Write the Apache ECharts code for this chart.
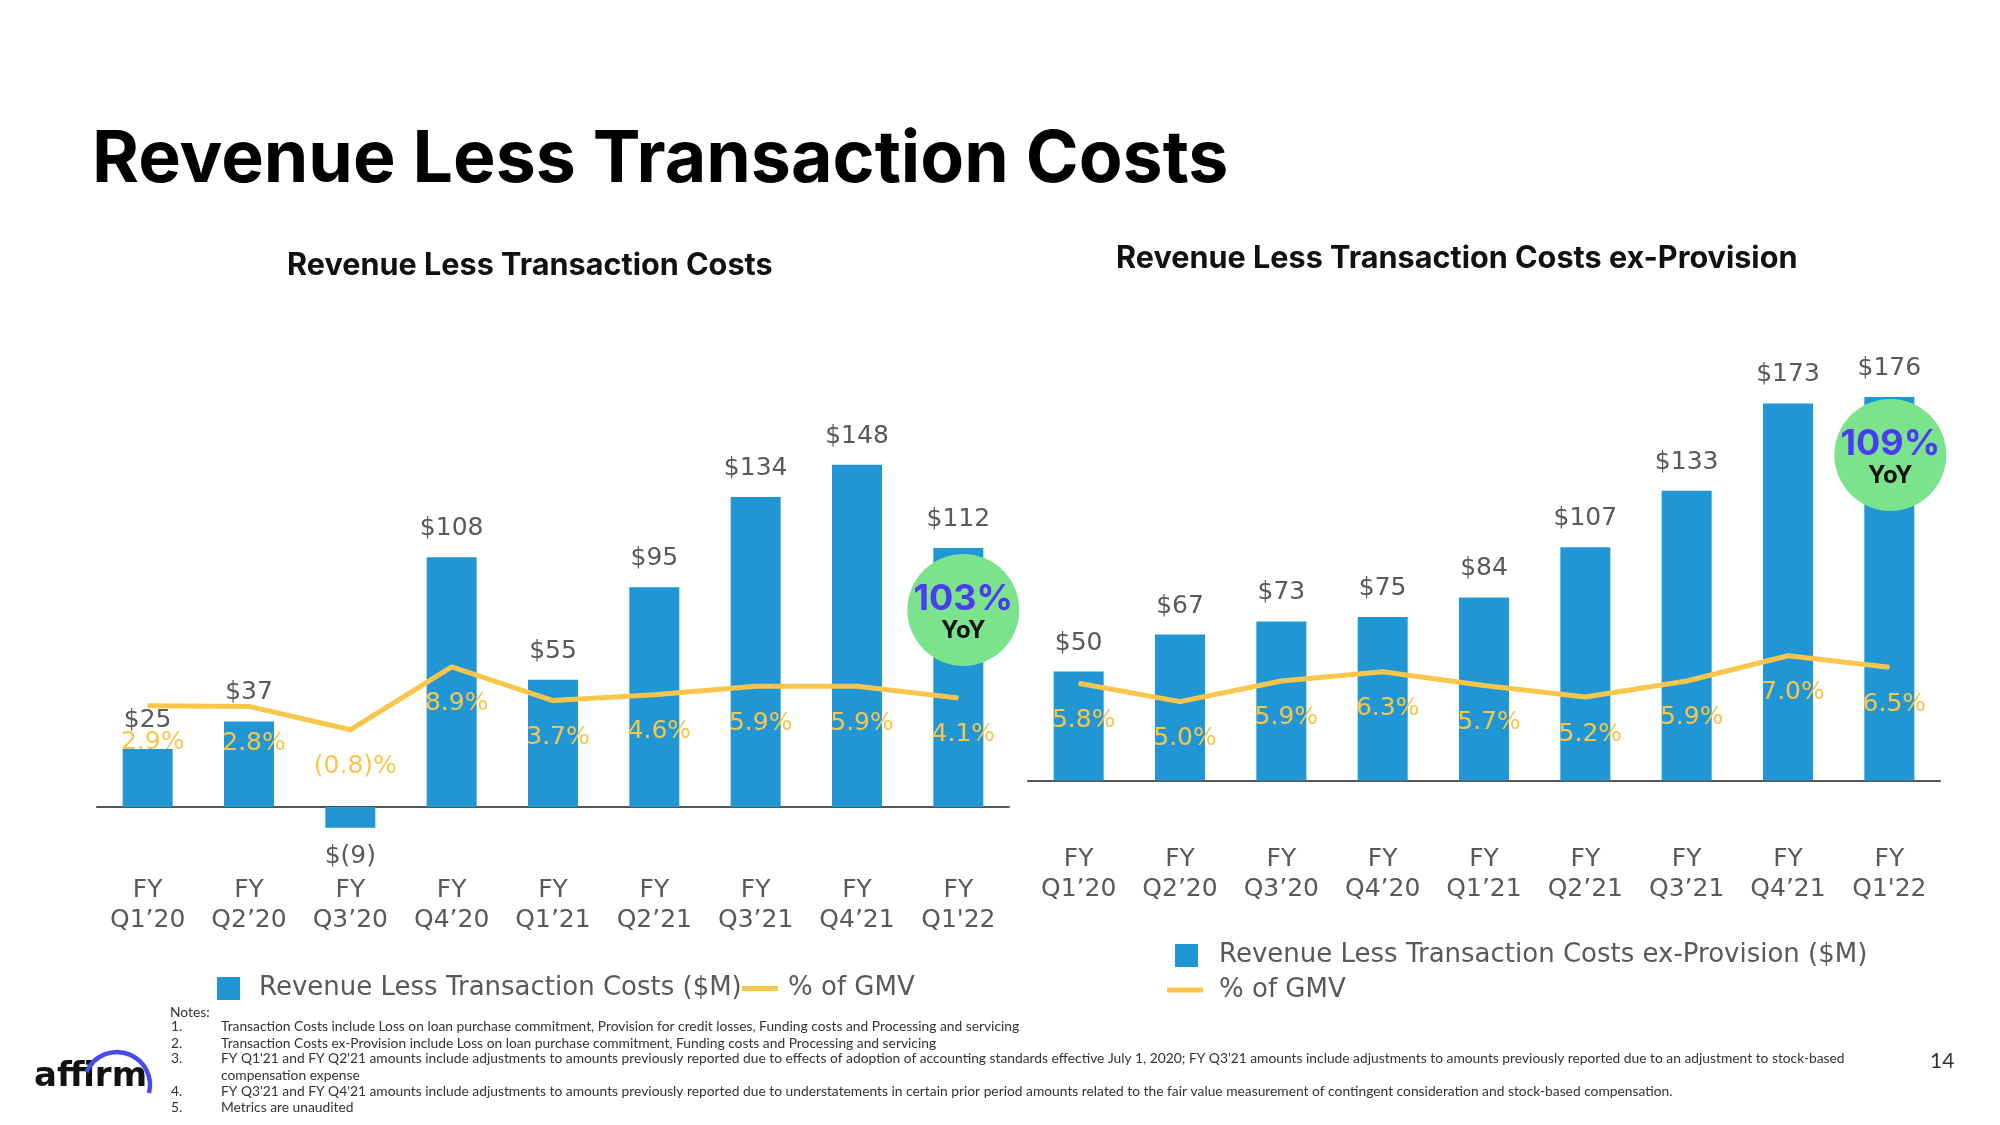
<!DOCTYPE html>
<html><head><meta charset="utf-8">
<script src="https://cdn.jsdelivr.net/npm/echarts@6/dist/echarts.min.js"></script>
<style>html,body{margin:0;padding:0;background:#fff}#c{width:2000px;height:1125px}</style>
</head><body><div id="c"></div>
<script>
// ---- data ----
const categories = ['FY\nQ1’20','FY\nQ2’20','FY\nQ3’20','FY\nQ4’20','FY\nQ1’21','FY\nQ2’21','FY\nQ3’21','FY\nQ4’21',"FY\nQ1'22"];
const rltc = [25, 37, -9, 108, 55, 95, 134, 148, 112];
const rltcPct = [2.9, 2.8, -0.8, 8.9, 3.7, 4.6, 5.9, 5.9, 4.1];
const rltcEx = [50, 67, 73, 75, 84, 107, 133, 173, 176];
const rltcExPct = [5.8, 5.0, 5.9, 6.3, 5.7, 5.2, 5.9, 7.0, 6.5];
const yoyLeft = '103%';
const yoyRight = '109%';
const seriesNames = ['Revenue Less Transaction Costs ($M)', '% of GMV', 'Revenue Less Transaction Costs ex-Provision ($M)'];
const notes = [
  ['1.', 'Transaction Costs include Loss on loan purchase commitment, Provision for credit losses, Funding costs and Processing and servicing'],
  ['2.', 'Transaction Costs ex-Provision include Loss on loan purchase commitment, Funding costs and Processing and servicing'],
  ['3.', "FY Q1'21 and FY Q2'21 amounts include adjustments to amounts previously reported due to effects of adoption of accounting standards effective July 1, 2020; FY Q3'21 amounts include adjustments to amounts previously reported due to an adjustment to stock-based"],
  ['', 'compensation expense'],
  ['4.', "FY Q3'21 and FY Q4'21 amounts include adjustments to amounts previously reported due to understatements in certain prior period amounts related to the fair value measurement of contingent consideration and stock-based compensation."],
  ['5.', 'Metrics are unaudited']
];

// ---- styles ----
const BLUE = '#2196D4', YELLOW = '#F9C64B', GRAY = '#595959', GREEN = '#7BE38C', PURPLE = '#4B3BF5';
const NUMF = 'DejaVu Sans';
const HEADF = 'Inter';

const money = v => v >= 0 ? '$' + v : '$(' + (-v) + ')';
const pct = v => v >= 0 ? v.toFixed(1) + '%' : '(' + (-v).toFixed(1) + ')%';

function barSeries(name, data, xi, yi, yoyText, yoyVal, yoyOff) {
  return {
    type: 'bar', name, xAxisIndex: xi, yAxisIndex: yi, barWidth: 50,
    itemStyle: { color: BLUE },
    data: data.map(v => ({ value: v, label: { position: v >= 0 ? 'top' : 'bottom' } })),
    label: { show: true, distance: 16, color: GRAY, fontSize: 25, fontFamily: NUMF, formatter: p => money(p.value) },
    markPoint: {
      silent: true, z: 5,
      data: [{
        coord: [categories[8], yoyVal], symbol: 'circle', symbolSize: 112, symbolOffset: [yoyOff, 0],
        itemStyle: { color: GREEN },
        label: {
          show: true, offset: [0, 4], formatter: '{a|' + yoyText + '}\n{b|YoY}',
          rich: {
            a: { fontSize: 36, fontWeight: 'bold', color: PURPLE, fontFamily: HEADF, lineHeight: 34 },
            b: { fontSize: 24, fontWeight: 'bold', color: '#111', fontFamily: HEADF, lineHeight: 30 }
          }
        }
      }]
    }
  };
}
function lineSeries(data, xi, yi) {
  return {
    type: 'line', name: seriesNames[1], xAxisIndex: xi, yAxisIndex: yi, z: 3,
    data, symbol: 'circle', symbolSize: 1, color: YELLOW,
    lineStyle: { color: YELLOW, width: 5 }, itemStyle: { color: YELLOW },
    label: { show: true, position: 'bottom', distance: 24, offset: [5, 0], color: YELLOW, fontSize: 25, fontFamily: NUMF, formatter: p => pct(p.value) }
  };
}
function xAxis(gi, margin) {
  return {
    type: 'category', gridIndex: gi, data: categories,
    axisLine: { onZero: true, onZeroAxisIndex: gi * 2, lineStyle: { color: '#555', width: 2 } },
    axisTick: { show: false },
    axisLabel: { interval: 0, margin, color: GRAY, fontSize: 25, lineHeight: 30, fontFamily: NUMF }
  };
}
const hiddenY = (gi, min, max) => ({ type: 'value', gridIndex: gi, min, max, show: false, splitLine: { show: false } });
const legText = (pl) => ({ color: GRAY, fontSize: 26, fontFamily: NUMF, lineHeight: 30, padding: [0, 0, 0, pl] });

const NOTEF = '13.8px Lato';
const graphics = [
  { type: 'text', left: 92, top: 124, style: { text: 'Revenue Less Transaction Costs', font: 'bold 71.6px Inter', fill: '#000' } },
  { type: 'text', left: 287, top: 250, style: { text: 'Revenue Less Transaction Costs', font: 'bold 30.6px Inter', fill: '#111' } },
  { type: 'text', left: 1116, top: 243, style: { text: 'Revenue Less Transaction Costs ex-Provision', font: 'bold 30.6px Inter', fill: '#111' } },
  { type: 'text', left: 170, top: 1006, style: { text: 'Notes:', font: NOTEF, fill: '#333' } },
  { type: 'text', left: 1930, top: 1051, style: { text: '14', font: '21px Lato', fill: '#333' } },
  { type: 'text', left: 34, top: 1060, style: { text: 'affirm', font: 'bold 34px "DejaVu Sans"', fill: '#111' } },
  { type: 'arc', shape: { cx: 117, cy: 1085, r: 33, startAngle: 3.54, endAngle: 6.53, clockwise: true }, style: { stroke: '#4A4AF4', lineWidth: 4.5, fill: null } }
];
const noteY = [1028, 1044.6, 1060.5, 1076.8, 1093, 1109.5];
notes.forEach((n, i) => {
  if (n[0]) graphics.push({ type: 'text', left: 171, top: noteY[i] - 8.5, style: { text: n[0], font: NOTEF, fill: '#333' } });
  graphics.push({ type: 'text', left: 221, top: noteY[i] - 8.5, style: { text: n[1], font: NOTEF, fill: '#333' } });
});

const chart = echarts.init(document.getElementById('c'), null, { renderer: 'canvas' });
chart.setOption({
  animation: false,
  backgroundColor: '#fff',
  grid: [
    { left: 97, width: 912, top: 437, height: 404.6 },
    { left: 1028, width: 912, top: 377.3, height: 403.3 }
  ],
  xAxis: [xAxis(0, 34), xAxis(1, 64)],
  yAxis: [hiddenY(0, -15, 160), hiddenY(0, -18, 44.25), hiddenY(1, 0, 185), hiddenY(1, 1.55, 19.16)],
  legend: [
    { data: [seriesNames[0]], left: 217, top: 973.5, itemWidth: 23, itemHeight: 23, icon: 'rect', padding: 0, textStyle: legText(14), selectedMode: false },
    { data: [seriesNames[1]], left: 742, top: 973.5, itemWidth: 36, itemHeight: 5, icon: 'rect', padding: 0, textStyle: legText(5), selectedMode: false },
    { data: [seriesNames[2]], left: 1175, top: 940.5, itemWidth: 23, itemHeight: 23, icon: 'rect', padding: 0, textStyle: legText(16), selectedMode: false },
    { data: [seriesNames[1]], left: 1167, top: 975, itemWidth: 36, itemHeight: 5, icon: 'rect', padding: 0, textStyle: legText(11), selectedMode: false }
  ],
  graphic: graphics,
  series: [
    barSeries(seriesNames[0], rltc, 0, 0, yoyLeft, 85.2, 5),
    lineSeries(rltcPct, 0, 1),
    barSeries(seriesNames[2], rltcEx, 1, 2, yoyRight, 149.4, 1),
    lineSeries(rltcExPct, 1, 3)
  ]
});
</script></body></html>
